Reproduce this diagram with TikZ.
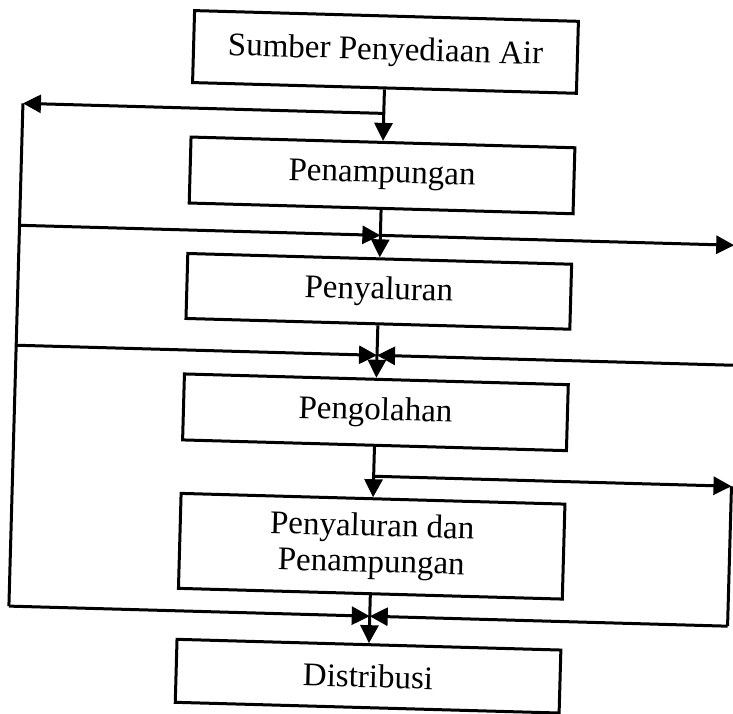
\documentclass[tikz,border=0pt]{standalone}
\usepackage{fontspec}
\setmainfont{Liberation Serif}
\usetikzlibrary{arrows.meta}
\tikzset{
  box/.style={draw, line width=3pt, minimum width=384pt, inner sep=0pt, align=center,
    font=\fontsize{33}{36}\selectfont},
  ln/.style={line width=3pt},
  arr/.style={ln, -{Triangle[length=18pt,width=18pt]}}
}
\begin{document}
\begin{tikzpicture}[x=1pt,y=-1pt]
\fill[white] (0,0) rectangle (733,713);
\useasboundingbox (0,0) rectangle (733,713);
\begin{scope}[rotate around={-1.6:(366,356)}, transform shape]
\node[box, minimum height=72pt] (b1) at (377,51.5) {Sumber Penyediaan Air};
\node[box, minimum height=66pt] (b2) at (377,175) {Penampungan};
\node[box, minimum height=65pt] (b3) at (377,291) {Penyaluran};
\node[box, minimum height=66pt] (b4) at (377,412) {Pengolahan};
\node[box, minimum height=95pt] (b5) at (377,546) {Penyaluran dan\\Penampungan};
\node[box, minimum height=63pt] (b6) at (377,676) {Distribusi};

\coordinate (a1) at (377,113);
\coordinate (L1) at (16,113);
\coordinate (L2) at (16,235);
\coordinate (c2) at (377,235);
\coordinate (R2) at (731,235);
\coordinate (L3) at (16,355);
\coordinate (c3) at (377,355);
\coordinate (R3) at (750,355);
\coordinate (c4) at (377,476);
\coordinate (R4) at (735,476);
\coordinate (L5) at (16,616);
\coordinate (c5) at (377,616);
\coordinate (R5) at (735,616);

\draw[arr] (b1.south) -- (b2.north);
\draw[arr] (b2.south) -- (b3.north);
\draw[arr] (b3.south) -- (b4.north);
\draw[arr] (b4.south) -- (b5.north);
\draw[arr] (b5.south) -- (b6.north);

\draw[arr] (a1) -- (L1);
\draw[ln] (L1) -- (L5);
\draw[arr] (L2) -- (c2);
\draw[arr] (c2) -- (R2);
\draw[arr] (L3) -- (c3);
\draw[arr] (R3) -- (c3);
\draw[arr] (c4) -- (R4);
\draw[ln] (R4) -- (R5);
\draw[arr] (L5) -- (c5);
\draw[arr] (R5) -- (c5);
\end{scope}
\end{tikzpicture}
\end{document}
